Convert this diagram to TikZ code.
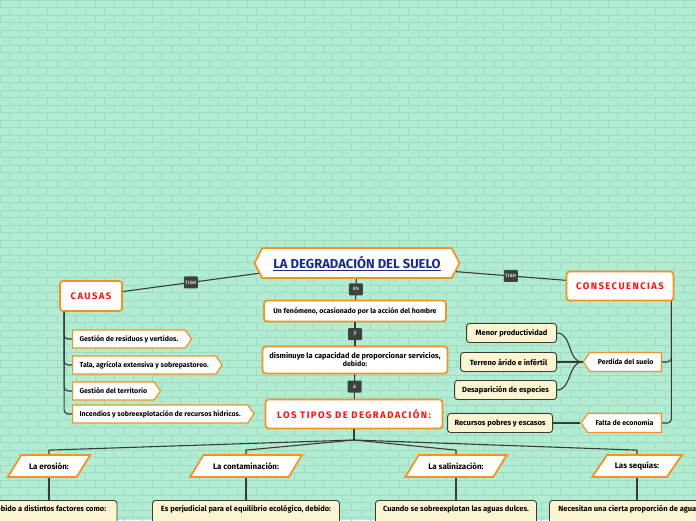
\documentclass[tikz,border=0pt]{standalone}
\usepackage{fontspec}
\setmainfont{Fira Sans}
\newfontfamily\espaciada[LetterSpace=15]{Fira Sans}
\usetikzlibrary{shapes.symbols,shapes.geometric,positioning}

\definecolor{menta}{HTML}{B2ECD2}
\definecolor{ladrillo}{HTML}{9FDBBF}
\definecolor{borde}{HTML}{F39325}
\definecolor{crema}{HTML}{FDF5D2}
\definecolor{etiq}{HTML}{3B423F}
\definecolor{linea}{HTML}{3A3A3A}
\definecolor{rojo}{HTML}{FF1010}
\definecolor{azul}{HTML}{1C2C8C}

\tikzset{
  link/.style={draw=linea,line width=1.1pt},
  lbl/.style={fill=etiq,text=white,rounded corners=1pt,font=\fontsize{6}{7}\selectfont,
    inner sep=1.5pt,minimum height=12,minimum width=14},
  caja/.style={draw=borde,line width=1.8pt,fill=white,rounded corners=3pt,
    font=\bfseries\fontsize{7}{8}\selectfont},
  grande/.style={caja,font=\espaciada\bfseries\fontsize{9.5}{11}\selectfont,text=rojo},
  titulo/.style={signal,signal to=east and west,signal pointer angle=125,draw=borde,
    line width=1.8pt,fill=white,text=azul,font=\bfseries\fontsize{13}{15}\selectfont},
  causa/.style={signal,signal to=east,signal pointer angle=110,draw=borde,line width=1.2pt,
    fill=white,minimum height=18,inner xsep=7,anchor=west,font=\bfseries\fontsize{7}{8}\selectfont},
  efecto/.style={signal,signal to=west,signal pointer angle=110,draw=borde,line width=1.2pt,
    fill=white,minimum height=19,inner xsep=8,anchor=east,font=\bfseries\fontsize{7}{8}\selectfont},
  amarilla/.style={draw=linea,line width=0.9pt,fill=crema,rounded corners=3pt,
    minimum height=19,font=\bfseries\fontsize{7.5}{9}\selectfont},
  tipo/.style={trapezium,trapezium left angle=50,trapezium right angle=130,
    trapezium stretches=true,draw=borde,line width=1.8pt,fill=white,minimum height=22,
    font=\bfseries\fontsize{8}{9}\selectfont},
  abajo/.style={amarilla,anchor=north,text height=8,text depth=12}
}

\begin{document}
\begin{tikzpicture}[x=1pt,y=-1pt]
    \useasboundingbox (0,0) rectangle (696,520);
    \clip (0,0) rectangle (696,520);

    % fondo de ladrillos
    \fill[menta] (0,0) rectangle (696,520);
    \foreach \f in {0,...,69} {
        \draw[ladrillo,line width=0.4pt] (0,\f*7.5) -- (696,\f*7.5);
        \foreach \c in {0,...,37}
            \draw[ladrillo,line width=0.4pt] ({\c*19+mod(\f,2)*9.5},\f*7.5) -- ++(0,7.5);
    }

    \node[titulo,minimum width=205,minimum height=30] (titulo) at (357,263) {\underline{LA DEGRADACIÓN DEL SUELO}};
    \node[caja,minimum width=182,minimum height=21] (fenomeno) at (355,311) {Un fenómeno, ocasionado por la acción del hombre};
    \node[caja,minimum width=185,minimum height=27,align=center] (disminuye) at (355,360) {\fontsize{7.5}{8}\selectfont disminuye la capacidad de proporcionar servicios,\\debido:};
    \node[grande,minimum width=177,minimum height=29] (tipos) at (354,414) {LOS TIPOS DE DEGRADACIÓN:};

    \node[grande,minimum width=62,minimum height=30] (causas) at (91,296) {CAUSAS};
    \node[grande,minimum width=107,minimum height=29] (consec) at (620,286) {CONSECUENCIAS};

    \draw[link] (titulo.186) -- node[lbl] {trae} (causas.8);
    \draw[link] (titulo.355) -- node[lbl] {trae} (consec.174);
    \draw[link] (titulo) -- node[lbl] {es} (fenomeno);
    \draw[link] (fenomeno) -- node[lbl] {y} (disminuye);
    \draw[link] (disminuye) -- node[lbl] {a} (tipos);

    % causas
    \node[causa] (residuos) at (72,339) {Gestión de residuos y vertidos.};
    \node[causa] (tala) at (72,365) {Tala, agrícola extensiva y sobrepastoreo.};
    \node[causa] (territorio) at (72,391) {Gestión del territorio};
    \node[causa] (incendios) at (72,414) {Incendios y sobreexplotación de recursos hídricos.};
    \foreach \n in {residuos,tala,territorio,incendios}
        \draw[link,rounded corners=4pt] ([xshift=5]causas.south west) |- (\n.west);

    % consecuencias
    \node[efecto] (perdida) at (662,362) {Perdida del suelo};
    \node[efecto] (falta) at (662,423) {Falta de economía};
    \foreach \n in {perdida,falta}
        \draw[link,rounded corners=4pt] ([xshift=-3]consec.south east) |- (\n.east);

    \node[amarilla,anchor=east,minimum width=90] (menor) at (557,333) {Menor productividad};
    \node[amarilla,anchor=east,minimum width=96] (terreno) at (557,362) {Terreno árido e infértil};
    \node[amarilla,anchor=east,minimum width=102] (desaparicion) at (557,390) {Desaparición de especies};
    \node[amarilla,anchor=east,minimum width=105] (recursos) at (553,423) {Recursos pobres y escasos};
    \foreach \n in {menor,terreno,desaparicion}
        \draw[link] (perdida.west) to[out=180,in=0] (\n.east);
    \draw[link] (falta.west) -- (recursos.east);

    % tipos
    \node[tipo,minimum width=83] (erosion) at (49,466) {La erosión:};
    \node[tipo,minimum width=113] (contaminacion) at (246,466) {La contaminación:};
    \node[tipo,minimum width=102] (salinizacion) at (456,466) {La salinización:};
    \node[tipo,minimum width=90] (sequias) at (637,466) {Las sequías:};

    \coordinate (reparto) at (354,440);
    \draw[link] (tipos.south) -- (reparto);
    \foreach \n in {erosion,contaminacion,salinizacion,sequias}
        \draw[link] (reparto) -- ([yshift=4]\n.north) -- (\n.north);

    \node[abajo,minimum width=136] (factores) at (49,500) {Debido a distintos factores como:};
    \node[abajo,minimum width=187] (equilibrio) at (246,500) {Es perjudicial para el equilibrio ecológico, debido:};
    \node[abajo,minimum width=161] (dulces) at (456,500) {Cuando se sobreexplotan las aguas dulces.};
    \node[abajo,anchor=north west,inner xsep=9] (agua) at (549,500) {Necesitan una cierta proporción de agua};

    \draw[link] (erosion) -- (factores);
    \draw[link] (contaminacion) -- (equilibrio);
    \draw[link] (salinizacion) -- (dulces);
    \draw[link] (sequias) -- (agua.north -| sequias);
\end{tikzpicture}
\end{document}
